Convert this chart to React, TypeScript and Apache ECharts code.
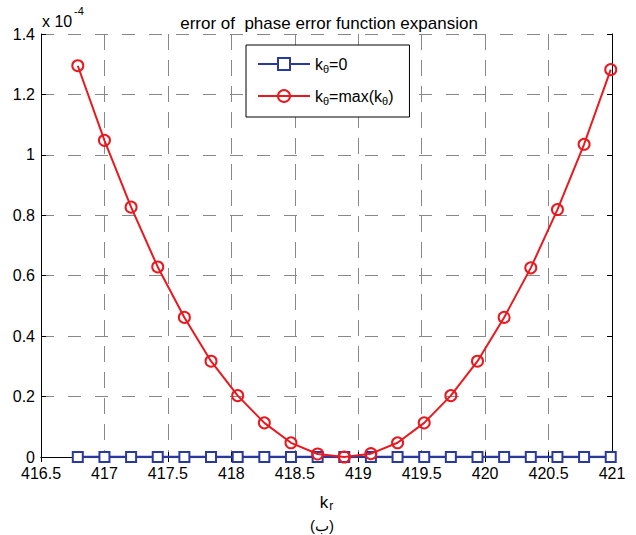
import React, { useEffect, useRef } from "react";
import * as echarts from "echarts";

const kr = [416.79, 417.0, 417.21, 417.42, 417.63, 417.84, 418.05, 418.26, 418.47, 418.68, 418.89, 419.1, 419.31, 419.52, 419.73, 419.94, 420.15, 420.36, 420.57, 420.78, 420.99];
// values in units of 1e-4
const errZero = [0, 0, 0, 0, 0, 0, 0, 0, 0, 0, 0, 0, 0, 0, 0, 0, 0, 0, 0, 0, 0];
const errMax = [1.295, 1.048, 0.827, 0.629, 0.462, 0.317, 0.203, 0.113, 0.047, 0.01, 0.0, 0.011, 0.047, 0.113, 0.203, 0.317, 0.462, 0.626, 0.819, 1.035, 1.282];
const seriesNames = ["k0", "kmax"];
const titleText = "error of  phase error function expansion";

const FONT = "'Liberation Sans', Arial, Helvetica, sans-serif";
const BLUE = "#2a3a9c";
const RED = "#e8191f";

export default function App() {
  const ref = useRef<HTMLDivElement>(null);
  useEffect(() => {
    if (!ref.current) return;
    const chart = echarts.init(ref.current, null, { renderer: "svg" });
    const pairs = (ys: number[]) => kr.map((x, i) => [x, ys[i]]);
    const rich = {
      a: { fontSize: 16, fontFamily: FONT, color: "#000" },
      s: { fontSize: 11, fontFamily: FONT, color: "#000", padding: [9, 0, 0, 0] },
    };
    const richName = {
      a: { fontSize: 17, fontFamily: FONT, color: "#000", lineHeight: 17 },
      s: { fontSize: 12, fontFamily: FONT, color: "#000", lineHeight: 12, padding: [7, 0, 0, 1] },
    };
    chart.setOption({
      animation: false,
      backgroundColor: "#fff",
      title: {
        text: titleText,
        left: 324,
        textAlign: "center",
        top: 10,
        textStyle: { fontSize: 17, fontWeight: "normal", fontFamily: FONT, color: "#000" },
      },
      grid: { left: 41, top: 34, right: 24, bottom: 78, containLabel: false },
      legend: {
        orient: "vertical",
        left: 246,
        top: 45,
        padding: [11, 16, 11, 11],
        itemGap: 14,
        itemWidth: 52,
        itemHeight: 15,
        borderColor: "#000",
        borderWidth: 1,
        borderRadius: 0,
        backgroundColor: "#fff",
        data: seriesNames,
        formatter: (name: string) =>
          name === "k0" ? "{a|k}{s|θ}{a|=0}" : "{a|k}{s|θ}{a|=max(k}{s|θ}{a|)}",
        textStyle: { fontSize: 16, fontFamily: FONT, color: "#000", rich },
      },
      xAxis: [
        {
          type: "value",
          min: 416.5,
          max: 421,
          interval: 0.5,
          position: "bottom",
          name: "{a|k}{s|r}",
          nameLocation: "middle",
          nameGap: 37,
          nameTextStyle: { rich: richName },
          axisLine: { show: true, lineStyle: { color: "#000", width: 1 } },
          axisTick: { show: true, inside: true, length: 5, lineStyle: { color: "#000" } },
          axisLabel: { fontSize: 16, fontFamily: FONT, color: "#000", margin: 8, showMaxLabel: true, showMinLabel: true },
          splitLine: { show: true, lineStyle: { color: "#888", type: [16, 10], width: 1 } },
        },
        {
          type: "value",
          min: 416.5,
          max: 421,
          interval: 0.5,
          position: "top",
          axisLine: { show: true, lineStyle: { color: "#000", width: 1 } },
          axisTick: { show: true, inside: true, length: 5, lineStyle: { color: "#000" } },
          axisLabel: { show: false },
          splitLine: { show: false },
        },
      ],
      yAxis: [
        {
          type: "value",
          min: 0,
          max: 1.4,
          interval: 0.2,
          position: "left",
          axisLine: { show: true, lineStyle: { color: "#000", width: 1 } },
          axisTick: { show: true, inside: true, length: 5, lineStyle: { color: "#000" } },
          axisLabel: { fontSize: 16, fontFamily: FONT, color: "#000", margin: 6 },
          splitLine: { show: true, lineStyle: { color: "#888", type: [13, 14], width: 1 } },
        },
        {
          type: "value",
          min: 0,
          max: 1.4,
          interval: 0.2,
          position: "right",
          axisLine: { show: true, lineStyle: { color: "#000", width: 1 } },
          axisTick: { show: true, inside: true, length: 5, lineStyle: { color: "#000" } },
          axisLabel: { show: false },
          splitLine: { show: false },
        },
      ],
      series: [
        {
          name: "k0",
          type: "line",
          xAxisIndex: 0,
          yAxisIndex: 0,
          data: pairs(errZero),
          symbol: "rect",
          symbolSize: 10,
          showAllSymbol: true,
          lineStyle: { color: BLUE, width: 2.5 },
          itemStyle: { color: "#fff", borderColor: BLUE, borderWidth: 2 },
          z: 2,
        },
        {
          name: "kmax",
          type: "line",
          xAxisIndex: 0,
          yAxisIndex: 0,
          data: pairs(errMax),
          symbol: "circle",
          symbolSize: 11,
          showAllSymbol: true,
          lineStyle: { color: RED, width: 2 },
          itemStyle: { color: "rgba(255,255,255,0)", borderColor: RED, borderWidth: 2 },
          z: 3,
        },
      ],
      graphic: [
        {
          type: "text",
          left: 42,
          top: 13,
          style: {
            text: "x 10",
            font: `16px ${FONT}`,
            fill: "#000",
          },
        },
        {
          type: "text",
          left: 74,
          top: 5,
          style: {
            text: "-4",
            font: `11px ${FONT}`,
            fill: "#000",
          },
        },
        {
          type: "text",
          left: 310,
          top: 518,
          style: {
            text: "(ب)",
            font: `15px ${FONT}`,
            fill: "#000",
          },
        },
      ],
    });
    return () => chart.dispose();
  }, []);
  return (
    <div
      ref={ref}
      style={{ position: "absolute", left: 0, top: 0, width: 636, height: 535 }}
    />
  );
}
